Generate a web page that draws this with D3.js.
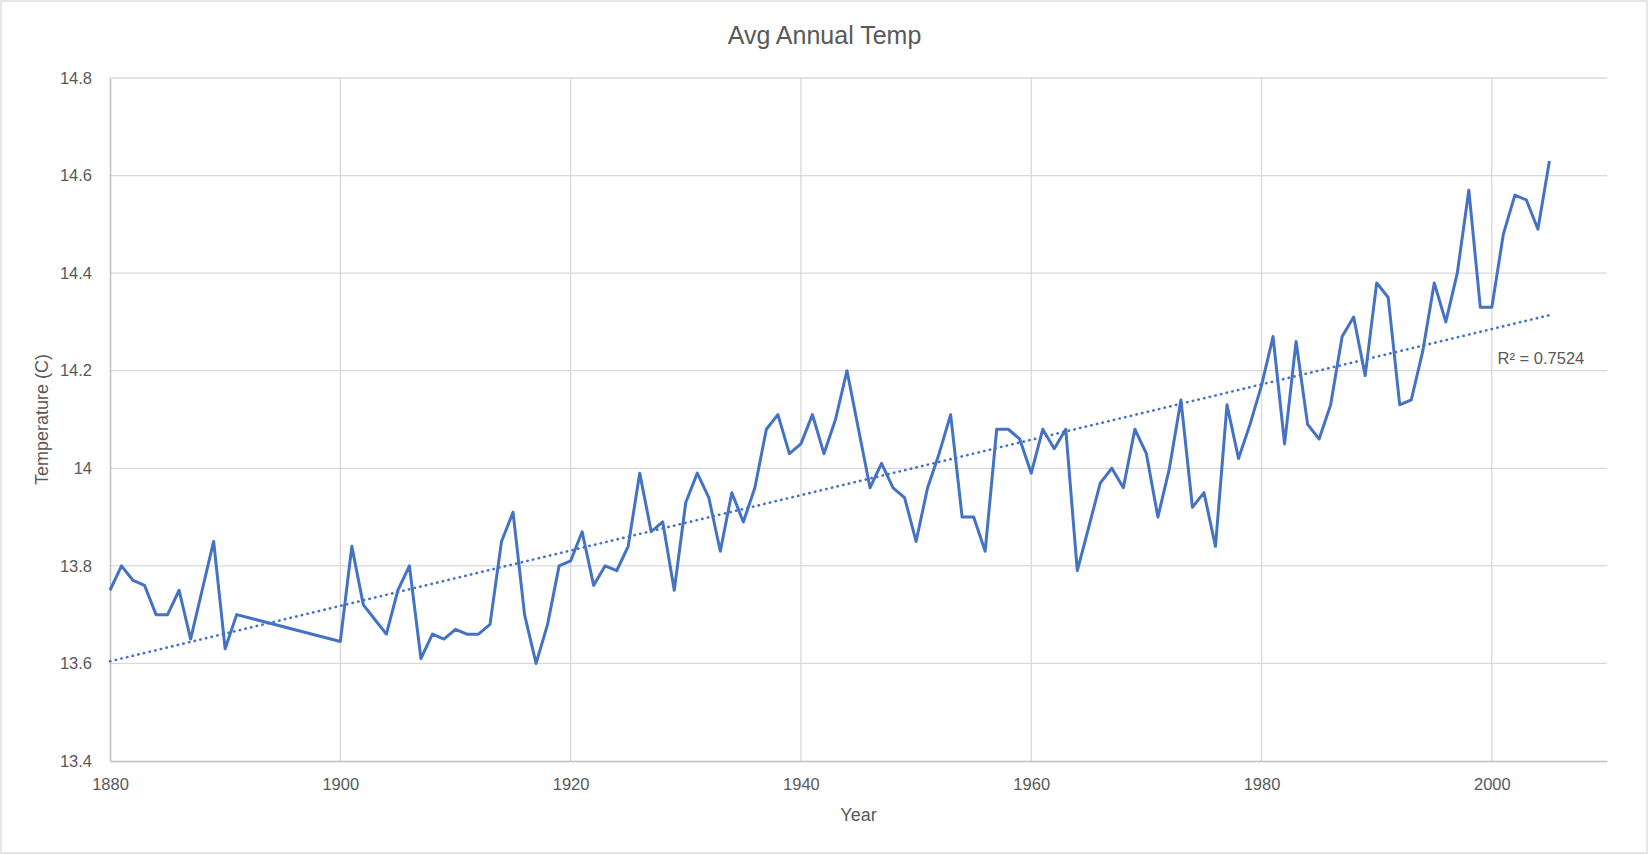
<!DOCTYPE html>
<html>
<head>
<meta charset="utf-8">
<script src="https://cdnjs.cloudflare.com/ajax/libs/d3/7.8.5/d3.min.js"></script>
<style>
  html, body { margin: 0; padding: 0; background: #fff; }
  svg { display: block; }
  text { font-family: "Liberation Sans", Arial, sans-serif; fill: #595959; }
</style>
</head>
<body>
<div id="chart"></div>
<script>
// data (1892-1899 have no values)
var years = [1880, 1881, 1882, 1883, 1884, 1885, 1886, 1887, 1888, 1889, 1890, 1891,
  1900, 1901, 1902, 1903, 1904, 1905, 1906, 1907, 1908, 1909,
  1910, 1911, 1912, 1913, 1914, 1915, 1916, 1917, 1918, 1919,
  1920, 1921, 1922, 1923, 1924, 1925, 1926, 1927, 1928, 1929,
  1930, 1931, 1932, 1933, 1934, 1935, 1936, 1937, 1938, 1939,
  1940, 1941, 1942, 1943, 1944, 1945, 1946, 1947, 1948, 1949,
  1950, 1951, 1952, 1953, 1954, 1955, 1956, 1957, 1958, 1959,
  1960, 1961, 1962, 1963, 1964, 1965, 1966, 1967, 1968, 1969,
  1970, 1971, 1972, 1973, 1974, 1975, 1976, 1977, 1978, 1979,
  1980, 1981, 1982, 1983, 1984, 1985, 1986, 1987, 1988, 1989,
  1990, 1991, 1992, 1993, 1994, 1995, 1996, 1997, 1998, 1999,
  2000, 2001, 2002, 2003, 2004, 2005];

var temps = [13.75, 13.80, 13.77, 13.76, 13.70, 13.70, 13.75, 13.65, 13.75, 13.85, 13.63, 13.70,
  13.645, 13.84, 13.72, 13.69, 13.66, 13.75, 13.80, 13.61, 13.66, 13.65,
  13.67, 13.66, 13.66, 13.68, 13.85, 13.91, 13.70, 13.60, 13.68, 13.80,
  13.81, 13.87, 13.76, 13.80, 13.79, 13.84, 13.99, 13.87, 13.89, 13.75,
  13.93, 13.99, 13.94, 13.83, 13.95, 13.89, 13.96, 14.08, 14.11, 14.03,
  14.05, 14.11, 14.03, 14.10, 14.20, 14.08, 13.96, 14.01, 13.96, 13.94,
  13.85, 13.96, 14.03, 14.11, 13.90, 13.90, 13.83, 14.08, 14.08, 14.06,
  13.99, 14.08, 14.04, 14.08, 13.79, 13.88, 13.97, 14.00, 13.96, 14.08,
  14.03, 13.90, 14.00, 14.14, 13.92, 13.95, 13.84, 14.13, 14.02, 14.09,
  14.17, 14.27, 14.05, 14.26, 14.09, 14.06, 14.13, 14.27, 14.31, 14.19,
  14.38, 14.35, 14.13, 14.14, 14.24, 14.38, 14.30, 14.40, 14.57, 14.33,
  14.33, 14.48, 14.56, 14.55, 14.49, 14.63];

var xTicks = [1880, 1900, 1920, 1940, 1960, 1980, 2000];
var yTicks = [13.4, 13.6, 13.8, 14, 14.2, 14.4, 14.6, 14.8];
var r2Label = "R\u00b2 = 0.7524";

var W = 1649, H = 855;
var margin = {top: 78, right: 42, bottom: 94, left: 110};
var width = W - margin.left - margin.right,
    height = H - margin.top - margin.bottom;

var svg = d3.select("#chart").append("svg")
    .attr("width", W)
    .attr("height", H);

// outer chart border
svg.append("rect")
  .attr("x", 1).attr("y", 1)
  .attr("width", W - 3).attr("height", H - 3)
  .style("fill", "#fff")
  .style("stroke", "#d9d9d9")
  .style("stroke-width", 1.3);

svg.append("text")
  .attr("x", W / 2)
  .attr("y", 44)
  .attr("text-anchor", "middle")
  .style("font-size", "25px")
  .text("Avg Annual Temp");

var g = svg.append("g")
    .attr("transform", "translate(" + margin.left + "," + margin.top + ")");

var xScale = d3.scaleLinear().domain([1880, 2010]).range([0, width]);
var yScale = d3.scaleLinear().domain([13.4, 14.8]).range([height, 0]);

// gridlines
g.append("g").selectAll("line")
  .data(yTicks.slice(1)).enter()
  .append("line")
  .attr("x1", 0).attr("x2", width)
  .attr("y1", function(d) { return yScale(d); })
  .attr("y2", function(d) { return yScale(d); })
  .style("stroke", "#d9d9d9")
  .style("stroke-width", 1.3);

g.append("g").selectAll("line")
  .data(xTicks.slice(1)).enter()
  .append("line")
  .attr("y1", 0).attr("y2", height)
  .attr("x1", function(d) { return xScale(d); })
  .attr("x2", function(d) { return xScale(d); })
  .style("stroke", "#d9d9d9")
  .style("stroke-width", 1.3);

// axes (no tick marks, just labels)
var xAxis = d3.axisBottom(xScale).tickValues(xTicks).tickSize(0).tickPadding(17)
    .tickFormat(d3.format("d"));
var yAxis = d3.axisLeft(yScale).tickValues(yTicks).tickSize(0).tickPadding(18)
    .tickFormat(function(d) { return d3.format("")(+d.toFixed(1)); });

var gx = g.append("g").attr("transform", "translate(0," + height + ")").call(xAxis);
var gy = g.append("g").call(yAxis);
[gx, gy].forEach(function(a) {
  a.select(".domain").style("stroke", "#bfbfbf").style("stroke-width", 1.5);
  a.selectAll("text")
    .style("font-family", "'Liberation Sans', Arial, sans-serif")
    .style("font-size", "16.5px")
    .style("fill", "#595959");
});

// axis titles
svg.append("text")
  .attr("x", margin.left + width / 2)
  .attr("y", 821)
  .attr("text-anchor", "middle")
  .style("font-size", "18px")
  .text("Year");

svg.append("text")
  .attr("transform", "translate(48," + (margin.top + height / 2) + ") rotate(-90)")
  .attr("text-anchor", "middle")
  .style("font-size", "18px")
  .text("Temperature (C)");

// data line
var pts = years.map(function(y, i) { return {x: y, y: temps[i]}; });

var line = d3.line()
  .x(function(d) { return xScale(d.x); })
  .y(function(d) { return yScale(d.y); });

g.append("path")
  .attr("d", line(pts))
  .style("fill", "none")
  .style("stroke", "#4472c4")
  .style("stroke-width", 3)
  .style("stroke-linejoin", "round");

// linear trendline, least squares over the series
var mx = d3.mean(years), my = d3.mean(temps);
var sxy = d3.sum(years, function(y, i) { return (y - mx) * (temps[i] - my); });
var sxx = d3.sum(years, function(y) { return (y - mx) * (y - mx); });
var slope = sxy / sxx, icpt = my - slope * mx;
var x0 = d3.min(years), x1 = d3.max(years);
var trend = [{x: x0, y: icpt + slope * x0}, {x: x1, y: icpt + slope * x1}];

g.append("path")
  .attr("d", line(trend))
  .style("fill", "none")
  .style("stroke", "#4472c4")
  .style("stroke-width", 2.6)
  .style("stroke-linecap", "round")
  .style("stroke-dasharray", "0.4 5.4");

g.append("text")
  .attr("x", xScale(2000.5))
  .attr("y", yScale(14.2) - 7)
  .style("font-size", "16.5px")
  .text(r2Label);
</script>
</body>
</html>
